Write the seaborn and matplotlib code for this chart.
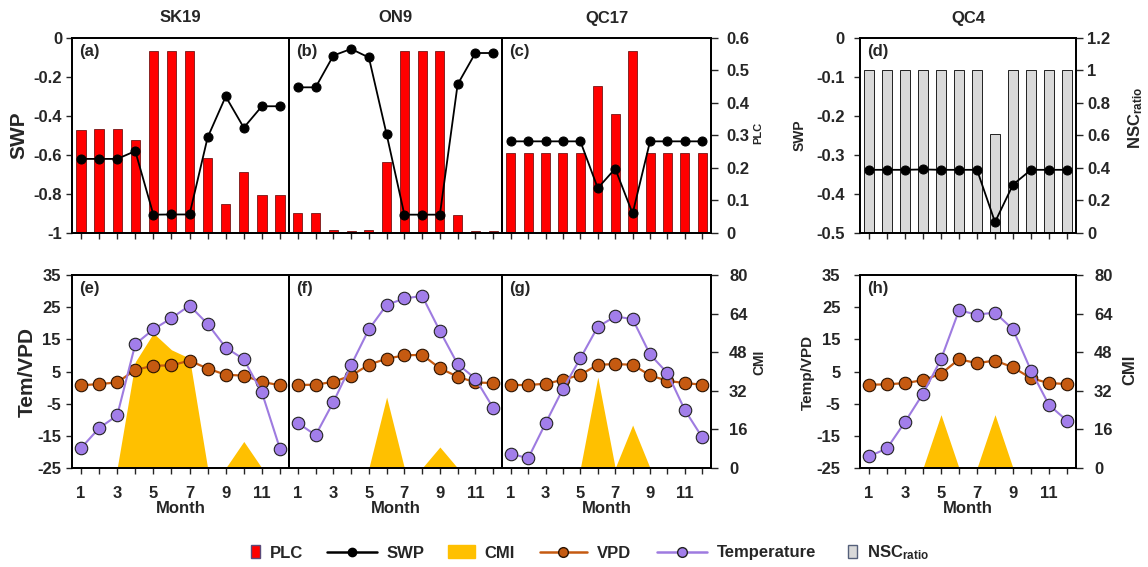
import matplotlib
matplotlib.use("Agg")
import matplotlib.pyplot as plt
import seaborn as sns
from matplotlib.lines import Line2D
from matplotlib.patches import Patch
from matplotlib.ticker import FuncFormatter, MultipleLocator, FixedLocator

# ---------------- data ----------------
months = [1, 2, 3, 4, 5, 6, 7, 8, 9, 10, 11, 12]
sites = ["SK19", "ON9", "QC17", "QC4"]
top_tags = ["(a)", "(b)", "(c)", "(d)"]
bot_tags = ["(e)", "(f)", "(g)", "(h)"]

swp_sk19 = [-0.62, -0.62, -0.62, -0.58, -0.906, -0.905, -0.905, -0.51, -0.30, -0.46, -0.35, -0.35]
plc_sk19 = [0.316, 0.319, 0.319, 0.286, 0.559, 0.559, 0.559, 0.230, 0.088, 0.189, 0.118, 0.118]
swp_on9 = [-0.253, -0.253, -0.09, -0.056, -0.10, -0.494, -0.906, -0.906, -0.906, -0.238, -0.077, -0.077]
plc_on9 = [0.0615, 0.0615, 0.008, 0.005, 0.010, 0.217, 0.559, 0.559, 0.559, 0.055, 0.007, 0.006]
swp_qc17 = [-0.53, -0.53, -0.53, -0.53, -0.53, -0.77, -0.67, -0.90, -0.53, -0.53, -0.53, -0.53]
plc_qc17 = [0.245, 0.245, 0.247, 0.245, 0.245, 0.451, 0.365, 0.561, 0.245, 0.245, 0.245, 0.245]
swp_qc4 = [-0.338, -0.338, -0.338, -0.337, -0.338, -0.338, -0.338, -0.472, -0.376, -0.338, -0.338, -0.338]
nsc_qc4 = [1.0, 1.0, 1.0, 1.0, 1.0, 1.0, 1.0, 0.61, 1.0, 1.0, 1.0, 1.0]

temp_sk19 = [-18.8, -12.6, -8.65, 13.5, 18.1, 21.6, 25.5, 19.8, 12.45, 8.8, -1.5, -19.0]
vpd_sk19 = [0.7, 1.1, 1.6, 5.5, 6.8, 6.9, 8.4, 5.9, 4.0, 3.7, 1.8, 0.7]
cmi_sk19 = [0, 0, 0, 44, 55.9, 49, 45.5, 0, 0, 11, 0, 0]
temp_on9 = [-11.0, -14.8, -4.5, 7.0, 18.1, 25.7, 27.7, 28.5, 17.6, 7.3, 2.8, -6.3]
vpd_on9 = [0.8, 0.9, 1.8, 3.7, 7.1, 9.0, 10.0, 10.2, 6.0, 3.4, 1.6, 1.4]
cmi_on9 = [0, 0, 0, 0, 0, 29.4, 0, 0, 8.7, 0, 0, 0]
temp_qc17 = [-20.5, -22.0, -11.1, -0.4, 9.1, 18.9, 22.1, 21.3, 10.3, 4.5, -7.0, -15.5]
vpd_qc17 = [0.8, 0.8, 1.2, 2.4, 4.0, 7.1, 7.3, 7.1, 3.8, 2.1, 1.4, 0.9]
cmi_qc17 = [0, 0, 0, 0, 0, 37.7, 0, 17.8, 0, 0, 0, 0]
temp_qc4 = [-21.4, -18.9, -10.7, -1.9, 8.8, 24.0, 22.7, 23.3, 18.1, 5.3, -5.4, -10.3]
vpd_qc4 = [0.9, 1.0, 1.4, 2.3, 4.3, 8.8, 7.6, 8.4, 6.3, 2.9, 1.4, 1.1]
cmi_qc4 = [0, 0, 0, 0, 22.1, 0, 0, 22.1, 0, 0, 0, 0]

swp_all = [swp_sk19, swp_on9, swp_qc17, swp_qc4]
bars_all = [plc_sk19, plc_on9, plc_qc17, nsc_qc4]
temp_all = [temp_sk19, temp_on9, temp_qc17, temp_qc4]
vpd_all = [vpd_sk19, vpd_on9, vpd_qc17, vpd_qc4]
cmi_all = [cmi_sk19, cmi_on9, cmi_qc17, cmi_qc4]

temp_ticks = [-25, -15, -5, 5, 15, 25, 35]
cmi_ticks = [0, 16, 32, 48, 64, 80]

# ---------------- style ----------------
sns.set_style("ticks")
plt.rcParams["font.family"] = ["Liberation Sans", "DejaVu Sans"]
plt.rcParams["font.weight"] = "bold"
plt.rcParams["axes.labelweight"] = "bold"
plt.rcParams["mathtext.default"] = "regular"

RED = "#FF0000"
GRAY = "#D9D9D9"
GOLD = "#FFC000"
VPD_C = "#C55A11"
TEMP_C = "#A27EEA"
TEMP_L = "#9E7BE0"

W, H = 1148, 567
def rect(l, r, t, b):
    return [l / W, 1 - b / H, (r - l) / W, (b - t) / H]

cols = [(72, 289), (289, 502), (502, 711), (860, 1076)]
top_row = (38, 233)
bot_row = (275, 468)

fmt = FuncFormatter(lambda v, p: f"{0 if abs(v) < 1e-9 else round(v, 3):g}")

fig = plt.figure(figsize=(W / 100, H / 100), dpi=100)

def style_axes(ax, ax2):
    for a in (ax, ax2):
        for s in a.spines.values():
            s.set_color("black")
            s.set_linewidth(1.3)
    ax.set_xlim(0.5, 12.5)
    ax.set_zorder(ax2.get_zorder() + 1)
    ax.patch.set_visible(False)
    ax.set_xlabel("")
    ax.set_ylabel("")
    ax2.set_xlabel("")
    ax2.set_ylabel("")

def bold_ticks(*axes):
    for a in axes:
        for lab in a.get_xticklabels() + a.get_yticklabels():
            lab.set_fontweight("bold")

# ---------------- top row ----------------
for i in range(4):
    l, r = cols[i]
    ax = fig.add_axes(rect(l, r, *top_row))
    ax2 = ax.twinx()
    if i < 3:
        sns.barplot(x=months, y=bars_all[i], native_scale=True, ax=ax2, color=RED,
                    saturation=1, edgecolor="#5a0000", linewidth=0.5, width=0.52,
                    errorbar=None)
    else:
        sns.barplot(x=months, y=bars_all[i], native_scale=True, ax=ax2, color=GRAY,
                    saturation=1, edgecolor="black", linewidth=0.6, width=0.52,
                    errorbar=None)
    sns.lineplot(x=months, y=swp_all[i], ax=ax, color="black", linewidth=1.3,
                 marker="o", markersize=6.5, markerfacecolor="black",
                 markeredgecolor="black")
    style_axes(ax, ax2)
    ax.set_xticks(months)
    ax.tick_params(axis="x", direction="out", length=4, width=1, labelbottom=False)
    if i < 3:
        ax.set_ylim(-1, 0)
        ax.yaxis.set_major_locator(MultipleLocator(0.2))
        ax2.set_ylim(0, 0.6)
        ax2.yaxis.set_major_locator(MultipleLocator(0.1))
    else:
        ax.set_ylim(-0.5, 0)
        ax.yaxis.set_major_locator(MultipleLocator(0.1))
        ax2.set_ylim(0, 1.2)
        ax2.yaxis.set_major_locator(MultipleLocator(0.2))
    ax.yaxis.set_major_formatter(fmt)
    ax2.yaxis.set_major_formatter(fmt)
    if i in (0, 3):
        ax.tick_params(axis="y", direction="out", length=4, width=1, labelsize=12,
                       pad=3 if i == 0 else 7)
    else:
        ax.tick_params(axis="y", left=False, labelleft=False)
    if i in (2, 3):
        ax2.tick_params(axis="y", direction="out", length=5, width=1, labelsize=12,
                        pad=6 if i == 2 else 3)
    else:
        ax2.tick_params(axis="y", right=False, labelright=False)
    bold_ticks(ax, ax2)
    ax.text(0.035, 0.97, top_tags[i], transform=ax.transAxes, ha="left", va="top",
            fontsize=12, weight="bold")
    fig.text(((l + r) / 2) / W, 1 - 18 / H, sites[i], ha="center", va="center",
             fontsize=12, weight="bold")

# ---------------- bottom row ----------------
for i in range(4):
    l, r = cols[i]
    ax = fig.add_axes(rect(l, r, *bot_row))
    ax2 = ax.twinx()
    ax2.fill_between(months, cmi_all[i], 0, color=GOLD, linewidth=0)
    sns.lineplot(x=months, y=vpd_all[i], ax=ax, color=VPD_C, linewidth=1.6,
                 marker="o", markersize=9, markerfacecolor=VPD_C,
                 markeredgecolor="#2a1200", markeredgewidth=0.8, zorder=3)
    sns.lineplot(x=months, y=temp_all[i], ax=ax, color=TEMP_L, linewidth=1.5,
                 marker="o", markersize=9, markerfacecolor=TEMP_C,
                 markeredgecolor="#222222", markeredgewidth=0.8, zorder=4)
    style_axes(ax, ax2)
    ax.set_ylim(-25, 35)
    ax.yaxis.set_major_locator(FixedLocator(temp_ticks))
    ax2.set_ylim(0, 80)
    ax2.yaxis.set_major_locator(FixedLocator(cmi_ticks))
    ax.yaxis.set_major_formatter(fmt)
    ax2.yaxis.set_major_formatter(fmt)
    ax.set_xticks(months, labels=[str(m) if m % 2 else "" for m in months])
    ax.tick_params(axis="x", direction="out", length=4, width=1, labelsize=12, pad=9)
    ax.set_xlabel("Month", fontsize=12, weight="bold", labelpad=0)
    if i in (0, 3):
        ax.tick_params(axis="y", direction="out", length=4, width=1, labelsize=12,
                       pad=4 if i == 0 else 10)
    else:
        ax.tick_params(axis="y", left=False, labelleft=False)
    if i in (2, 3):
        ax2.tick_params(axis="y", direction="out", length=5, width=1, labelsize=12,
                        pad=8)
    else:
        ax2.tick_params(axis="y", right=False, labelright=False)
    bold_ticks(ax, ax2)
    ax.text(0.035, 0.97, bot_tags[i], transform=ax.transAxes, ha="left", va="top",
            fontsize=12, weight="bold")

# ---------------- axis titles ----------------
fig.text(19 / W, 1 - 135 / H, "SWP", rotation=90, ha="center", va="center", fontsize=15, weight="bold")
fig.text(758 / W, 1 - 133 / H, "PLC", rotation=90, ha="center", va="center", fontsize=8, weight="bold")
fig.text(800 / W, 1 - 135 / H, "SWP", rotation=90, ha="center", va="center", fontsize=10, weight="bold")
fig.text(1136 / W, 1 - 118 / H, r"NSC$_{ratio}$", rotation=90, ha="center", va="center", fontsize=12, weight="bold")
fig.text(27 / W, 1 - 372 / H, "Tem/VPD", rotation=90, ha="center", va="center", fontsize=15, weight="bold")
fig.text(759 / W, 1 - 362 / H, "CMI", rotation=90, ha="center", va="center", fontsize=10, weight="bold")
fig.text(808 / W, 1 - 372 / H, "Temp/VPD", rotation=90, ha="center", va="center", fontsize=11, weight="bold")
fig.text(1130 / W, 1 - 370 / H, "CMI", rotation=90, ha="center", va="center", fontsize=12, weight="bold")

# ---------------- legend (one entry per legend to mimic spacing) ----------------
leg_items = [
    (Patch(facecolor=RED, edgecolor="#5b4a7a", linewidth=1.0, label="PLC"), 251, 0.55, 0.8),
    (Line2D([], [], color="black", linewidth=1.8, marker="o", markersize=6,
            markerfacecolor="black", markeredgecolor="black", label="SWP"), 327, 3.0, 0.7),
    (Patch(facecolor=GOLD, edgecolor=GOLD, label="CMI"), 448, 1.6, 0.8),
    (Line2D([], [], color=VPD_C, linewidth=1.8, marker="o", markersize=7,
            markerfacecolor=VPD_C, markeredgecolor="#2a1200", label="VPD"), 540, 2.8, 0.7),
    (Line2D([], [], color=TEMP_L, linewidth=1.8, marker="o", markersize=7,
            markerfacecolor=TEMP_C, markeredgecolor="#222222", label="Temperature"), 657, 3.0, 0.7),
    (Patch(facecolor=GRAY, edgecolor="#55607a", linewidth=1.0, label=r"NSC$_{ratio}$"), 848, 0.55, 0.8),
]
for handle, x0, hl, hh in leg_items:
    lg = fig.legend(handles=[handle], loc="center left",
                    bbox_to_anchor=(x0 / W, 1 - 553 / H), frameon=False,
                    handlelength=hl, handleheight=hh, handletextpad=0.6,
                    borderpad=0, borderaxespad=0,
                    prop={"weight": "bold", "size": 12})

fig.savefig("out.png", dpi=100)
